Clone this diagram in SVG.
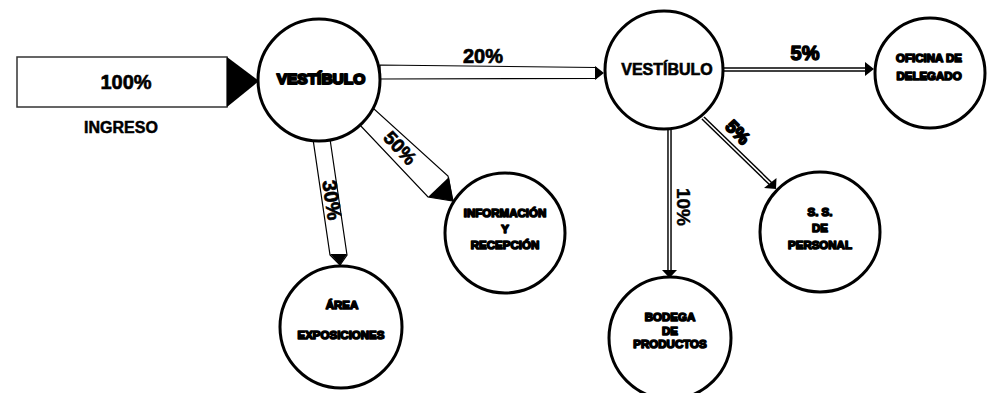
<svg xmlns="http://www.w3.org/2000/svg" width="988" height="393" viewBox="0 0 988 393">
<style>
.node{fill:#fff;stroke:#000;stroke-width:3}
.t{font-family:"Liberation Sans",Arial,sans-serif;font-weight:bold;fill:#000;text-anchor:middle}
.small{font-size:11.5px;stroke:#000;stroke-width:1.6;stroke-linejoin:round}
.big{font-size:20px}
.band{fill:#fff;stroke:#000;stroke-width:1.2}
.head{fill:#000;stroke:none}
.dblo{stroke:#000;stroke-width:4.5;fill:none}
.dbli{stroke:#fff;stroke-width:1.6;fill:none}
</style>
<rect width="988" height="393" fill="#fff"/>
<g id="connectors">
  <g id="c-ingreso">
    <rect x="17" y="57" width="210" height="50" fill="#fff" stroke="#333" stroke-width="1.5"/>
    <polygon class="head" points="227,57 227,107 259,81"/>
  </g>
  <g id="c-20">
    <polygon class="band" points="380,65 596,67.5 596,78.5 380,79"/>
    <polygon class="head" points="595,66 595,80 604,73"/>
  </g>
  <g id="c-50">
    <polygon class="band" points="358,123 373,108 448,176 453,201 428,197"/>
    <polygon class="head" points="428,197 449,177 453,201"/>
  </g>
  <g id="c-30">
    <polygon class="band" points="313,139 330,139 347,255 340,265 330,255"/>
    <polygon class="head" points="330,254 347,254 340,265"/>
  </g>
  <g id="c-5a">
    <line class="dblo" x1="723" y1="69.5" x2="867" y2="69.5"/>
    <line class="dbli" x1="723" y1="69.5" x2="867" y2="69.5"/>
    <polygon class="head" points="865,62 865,76 874,69"/>
  </g>
  <g id="c-10">
    <line class="dblo" x1="669.5" y1="129" x2="669.5" y2="271"/>
    <line class="dbli" x1="669.5" y1="129" x2="669.5" y2="271"/>
    <polygon class="head" points="662,270 677,270 669.5,278"/>
  </g>
  <g id="c-5b">
    <line class="dblo" x1="703" y1="118" x2="771" y2="184"/>
    <line class="dbli" x1="703" y1="118" x2="771" y2="184"/>
    <polygon class="head" points="776,189 764,188 776.5,178"/>
  </g>
</g>
<g id="labels">
  <text class="t big" x="126" y="89" stroke="#000" stroke-width="0.6">100%</text>
  <text class="t" x="121" y="133" font-size="16" stroke="#000" stroke-width="0.5">INGRESO</text>
  <text class="t big" x="483" y="63" stroke="#000" stroke-width="0.7">20%</text>
  <text class="t big" x="805" y="60" stroke="#000" stroke-width="1.4" stroke-linejoin="round">5%</text>
  <text class="t" transform="translate(400,148) rotate(47)" y="6.5" font-size="19" stroke="#000" stroke-width="0.7">50%</text>
  <text class="t" transform="translate(332,200) rotate(82)" y="7" font-size="20" stroke="#000" stroke-width="0.7">30%</text>
  <text class="t" transform="translate(683,207) rotate(90)" y="6.5" font-size="19" stroke="#000" stroke-width="0.4">10%</text>
  <text class="t" transform="translate(738,132) rotate(45)" y="6.5" font-size="18" stroke="#000" stroke-width="1.8" stroke-linejoin="round">5%</text>
</g>
<g id="vestibulo1">
  <circle class="node" cx="319" cy="80" r="61"/>
  <text class="t" x="321" y="84" font-size="15.5" stroke="#000" stroke-width="2" stroke-linejoin="round">VESTÍBULO</text>
</g>
<g id="vestibulo2">
  <circle class="node" cx="664" cy="70" r="59"/>
  <text class="t" x="667" y="75" font-size="16" stroke="#000" stroke-width="0.6">VESTÍBULO</text>
</g>
<g id="oficina">
  <circle class="node" cx="930" cy="73" r="55"/>
  <text class="t small" x="929" y="62">OFICINA DE</text>
  <text class="t small" x="929" y="80">DELEGADO</text>
</g>
<g id="informacion">
  <circle class="node" cx="505" cy="233" r="60"/>
  <text class="t small" x="505" y="217">INFORMACIÓN</text>
  <text class="t small" x="505" y="233">Y</text>
  <text class="t small" x="505" y="249">RECEPCIÓN</text>
</g>
<g id="area">
  <circle class="node" cx="341" cy="327" r="61"/>
  <text class="t small" x="342" y="309">ÁREA</text>
  <text class="t small" x="341" y="339">EXPOSICIONES</text>
</g>
<g id="personal">
  <circle class="node" cx="820" cy="232" r="60"/>
  <text class="t small" x="820" y="216">S. S.</text>
  <text class="t small" x="820" y="232">DE</text>
  <text class="t small" x="820" y="249">PERSONAL</text>
</g>
<g id="bodega">
  <circle class="node" cx="670" cy="338" r="61"/>
  <text class="t small" x="670" y="321">BODEGA</text>
  <text class="t small" x="670" y="334.5">DE</text>
  <text class="t small" x="670" y="348">PRODUCTOS</text>
</g>
</svg>
